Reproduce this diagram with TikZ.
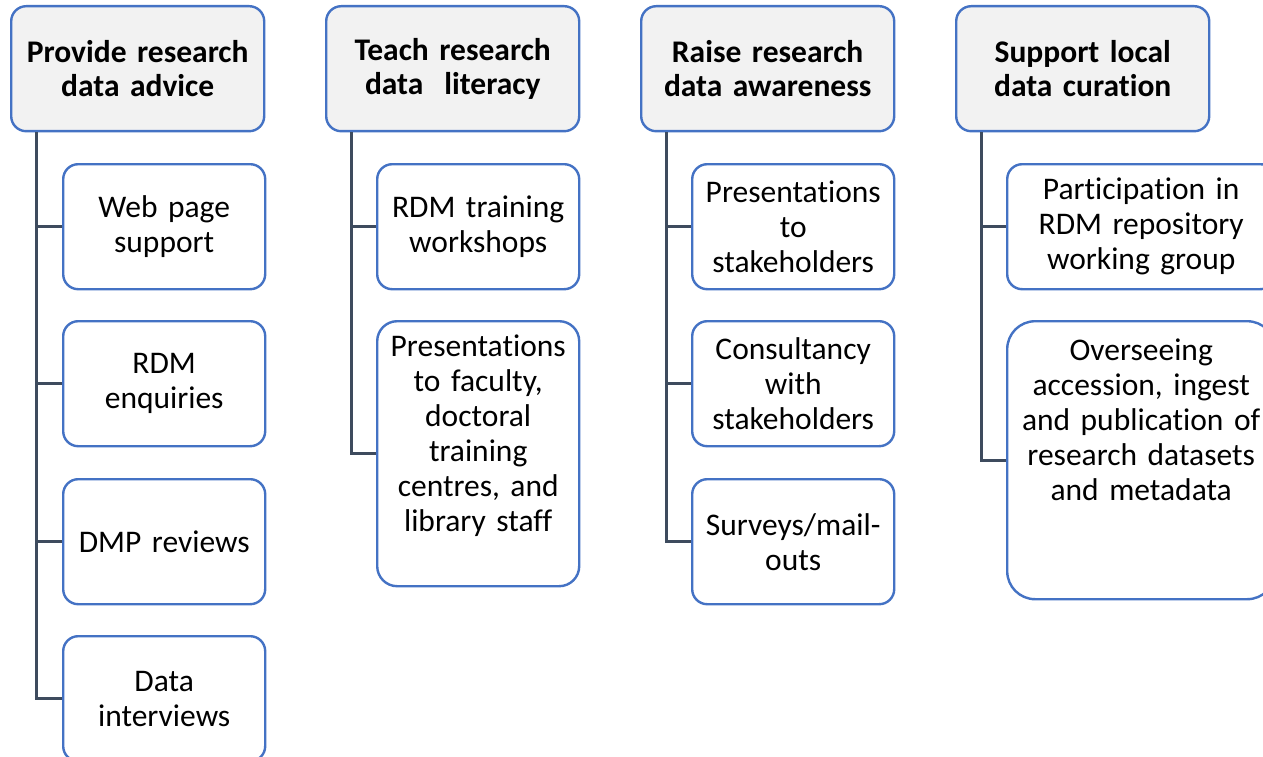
\documentclass[tikz,border=0pt]{standalone}
\usepackage{fontspec}
\setmainfont{Carlito}[Ligatures={NoCommon,NoContextual},Contextuals={NoAlternate}]
\usetikzlibrary{calc}
\definecolor{boxblue}{HTML}{4472C4}
\definecolor{headfill}{HTML}{F2F2F2}
\definecolor{linkcol}{HTML}{3E4B5E}
\tikzset{
  base/.style={draw=boxblue, line width=2.4pt, rectangle, anchor=north west,
    align=center, inner sep=0pt, font=\fontsize{31.5}{35}\selectfont},
  headbox/.style={base, fill=headfill, rounded corners=15pt, minimum width=253pt,
    minimum height=125pt, text width=245pt, font=\fontsize{31.5}{34}\selectfont\bfseries},
  childbox/.style={base, fill=white, rounded corners=15pt, minimum width=202pt,
    minimum height=125pt, text width=198pt},
  widebox/.style={base, fill=white, rounded corners=15pt, minimum width=268pt,
    minimum height=125pt, text width=262pt},
  link/.style={draw=linkcol, line width=3pt}
}
\begin{document}
\begin{tikzpicture}[x=1pt,y=-1pt]
\useasboundingbox (0,0) rectangle (1263,757);
\fill[white] (0,0) rectangle (1263,757);
\clip (0,0) rectangle (1263,757);

% headers
\node[headbox] (h1) at (10,5) {Provide research\\data advice};
\node[headbox] (h2) at (325,5) {Teach research\\data\ \ literacy};
\node[headbox] (h3) at (640,5) {Raise research\\data awareness};
\node[headbox] (h4) at (955,5) {Support local\\data curation};

% spine anchors
\coordinate (s1) at ($(h1.south west)+(26,0)$);
\coordinate (s2) at ($(h2.south west)+(26,0)$);
\coordinate (s3) at ($(h3.south west)+(26,0)$);
\coordinate (s4) at ($(h4.south west)+(26,0)$);

% column 1
\node[childbox] (a1) at (62,163) {Web page\\support};
\node[childbox] (a2) at (62,320) {RDM\\enquiries};
\node[childbox] (a3) at (62,478) {DMP reviews};
\node[childbox] (a4) at (62,635) {Data\\interviews};

% column 2
\node[childbox, minimum height=265pt, rounded corners=20pt, text depth=216pt] (b2) at (376,320)
  {Presentations\\to faculty,\\doctoral\\training\\centres, and\\library staff};
\node[childbox] (b1) at (376,163) {RDM training\\workshops};

% column 3
\node[childbox] (c1) at (691,163) {Presentations\\to\\stakeholders};
\node[childbox] (c2) at (691,320) {Consultancy\\with\\stakeholders};
\node[childbox] (c3) at (691,478) {Surveys/mail-\\outs};

% column 4
\node[widebox] (d1) at (1006,163) {Participation in\\RDM repository\\working group};
\node[widebox, minimum height=278pt, rounded corners=28pt, text depth=221pt] (d2) at (1006,320)
  {Overseeing\\accession, ingest\\and publication of\\research datasets\\and metadata};

% connectors
\foreach \c in {a1,a2,a3,a4} \draw[link] (s1) |- (\c.west);
\foreach \c in {b1,b2} \draw[link] (s2) |- (\c.west);
\foreach \c in {c1,c2,c3} \draw[link] (s3) |- (\c.west);
\draw[link] (s4) |- (d1.west);
\draw[link] (s4) |- ($(d2.north west)+(0,140)$);
\end{tikzpicture}
\end{document}
